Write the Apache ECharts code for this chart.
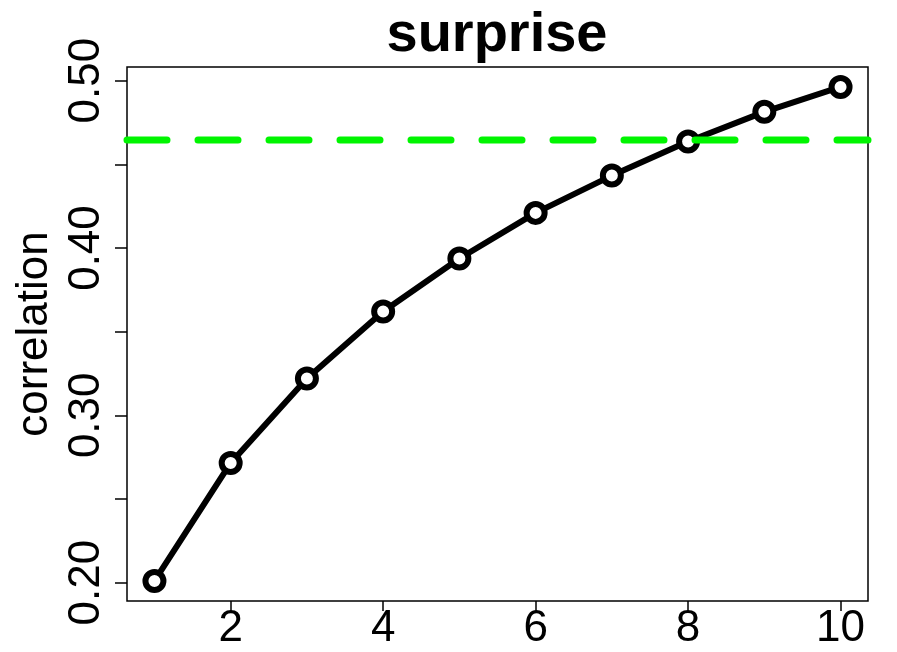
<!DOCTYPE html>
<html>
<head>
<meta charset="utf-8">
<script src="https://cdn.jsdelivr.net/npm/echarts@6/dist/echarts.min.js"></script>
<style>
  html, body { margin: 0; padding: 0; background: #fff; }
  #chart { width: 897px; height: 652px; }
</style>
</head>
<body>
<div id="chart"></div>
<script>
// number of components (x) and the resulting correlation (y)
const components = [1, 2, 3, 4, 5, 6, 7, 8, 9, 10];
const correlation = [0.201, 0.2715, 0.322, 0.362, 0.3937, 0.421, 0.4433, 0.4637, 0.4814, 0.4963];
// reference level drawn as a dashed horizontal line
const referenceLevel = 0.4645;

// axis ranges, tick positions and labelled values
const xRange = [0.64, 10.36];
const yRange = [0.189, 0.5082];
const xTickValues = [2, 4, 6, 8, 10];
const yTickValues = [0.20, 0.25, 0.30, 0.35, 0.40, 0.45, 0.50];
const yLabelValues = [0.20, 0.30, 0.40, 0.50];

const FONT = '"Liberation Sans", Arial, Helvetica, sans-serif';
const GRID = { left: 127, right: 29, top: 67, bottom: 51 };

const chart = echarts.init(document.getElementById('chart'), null, { renderer: 'canvas' });

chart.setOption({
  animation: false,
  backgroundColor: '#fff',
  title: {
    text: 'surprise',
    // roughly centred over the plotting region
    left: 492,
    textAlign: 'center',
    top: 3,
    textStyle: { fontFamily: FONT, fontWeight: 'bold', fontSize: 56, color: '#000' }
  },
  grid: Object.assign({
    show: true, borderColor: '#000', borderWidth: 1.5, backgroundColor: 'transparent'
  }, GRID),
  xAxis: {
    type: 'value',
    min: xRange[0], max: xRange[1],
    axisLine: { show: false },
    splitLine: { show: false },
    axisTick: { show: true, inside: false, length: 10, customValues: xTickValues,
                lineStyle: { color: '#000', width: 1.5 } },
    axisLabel: { show: true, customValues: xTickValues, margin: 6,
                 fontFamily: FONT, fontSize: 44, color: '#000' }
  },
  yAxis: {
    type: 'value',
    min: yRange[0], max: yRange[1],
    name: 'correlation',
    nameLocation: 'middle',
    nameRotate: 90,
    nameGap: 66,
    nameTextStyle: { fontFamily: FONT, fontSize: 44, color: '#000' },
    axisLine: { show: false },
    splitLine: { show: false },
    axisTick: { show: true, inside: false, length: 12, customValues: yTickValues,
                lineStyle: { color: '#000', width: 1.5 } },
    axisLabel: { show: true, customValues: yLabelValues, rotate: 90, margin: 18,
                 fontFamily: FONT, fontSize: 44, color: '#000',
                 formatter: v => v.toFixed(2) }
  },
  series: [
    {
      type: 'line',
      data: components.map((x, i) => [x, correlation[i]]),
      symbol: 'circle',
      symbolSize: 18,
      lineStyle: { color: '#000', width: 6 },
      itemStyle: { color: '#fff', borderColor: '#000', borderWidth: 6 },
      z: 2
    },
    {
      // dashed reference level across the full plotting width
      type: 'line',
      data: [[xRange[0], referenceLevel], [xRange[1], referenceLevel]],
      symbol: 'none',
      silent: true,
      lineStyle: { color: '#00f500', width: 7, type: [40, 31], cap: 'round' },
      z: 3
    }
  ]
});
</script>
</body>
</html>
